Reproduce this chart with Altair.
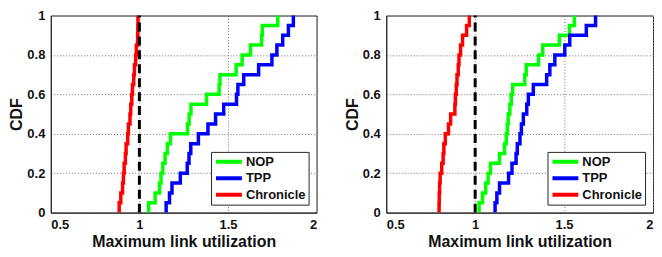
import altair as alt
import pandas as pd

# ---------------- data ----------------
series = ["NOP", "TPP", "Chronicle"]
colors = ["#00ff00", "#0000ff", "#ff0000"]

# left panel: sorted samples of maximum link utilization (20 each)
left_nop = [1.052, 1.089, 1.114, 1.122, 1.132, 1.145, 1.158, 1.175, 1.272, 1.281,
            1.291, 1.379, 1.450, 1.455, 1.546, 1.580, 1.627, 1.690, 1.694, 1.781]
left_tpp = [1.151, 1.170, 1.184, 1.231, 1.270, 1.280, 1.290, 1.333, 1.387, 1.430,
            1.476, 1.548, 1.556, 1.589, 1.673, 1.748, 1.776, 1.809, 1.841, 1.869]
left_chr = [0.886, 0.895, 0.905, 0.910, 0.914, 0.921, 0.925, 0.934, 0.938, 0.947,
            0.951, 0.957, 0.961, 0.968, 0.972, 0.979, 0.983, 0.990, 0.991, 0.992]

# right panel
right_nop = [1.022, 1.041, 1.059, 1.073, 1.086, 1.137, 1.165, 1.175, 1.181, 1.186,
             1.195, 1.203, 1.211, 1.279, 1.287, 1.356, 1.380, 1.474, 1.530, 1.558]
right_tpp = [1.112, 1.122, 1.137, 1.188, 1.207, 1.230, 1.237, 1.252, 1.260, 1.271,
             1.290, 1.299, 1.327, 1.402, 1.420, 1.448, 1.504, 1.532, 1.625, 1.677]
right_chr = [0.797, 0.798, 0.800, 0.803, 0.812, 0.820, 0.824, 0.832, 0.850, 0.862,
             0.886, 0.889, 0.894, 0.898, 0.905, 0.909, 0.918, 0.929, 0.952, 0.967]

x_ticks = [0.5, 1, 1.5, 2]
y_ticks = [0, 0.2, 0.4, 0.6, 0.8, 1]
threshold = [1.0]

FONT = "Liberation Sans"
TEXT = "#111111"


def cdf_frame(values_by_series):
    rows = []
    for name, vals in values_by_series.items():
        vals = sorted(vals)
        n = len(vals)
        rows.append(dict(series=name, x=vals[0], y=0.0, k=0))
        for i, v in enumerate(vals, start=1):
            rows.append(dict(series=name, x=v, y=i / n, k=i))
    return pd.DataFrame(rows)


def panel(df, w, h, legend_offset):
    lines = alt.Chart(df).mark_line(
        interpolate="step-after", strokeWidth=3.5
    ).encode(
        x=alt.X("x:Q",
                scale=alt.Scale(domain=[0.5, 2], nice=False, zero=False),
                axis=alt.Axis(values=x_ticks, tickCount=len(x_ticks), format="~g",
                              labelOverlap=False,
                              title="Maximum link utilization")),
        y=alt.Y("y:Q",
                scale=alt.Scale(domain=[0, 1], nice=False),
                axis=alt.Axis(values=y_ticks, tickCount=len(y_ticks), format="~g",
                              labelOverlap=False, title="CDF")),
        color=alt.Color(
            "series:N",
            scale=alt.Scale(domain=series, range=colors),
            sort=series,
            legend=alt.Legend(
                title=None, orient="bottom-right", offset=legend_offset,
                symbolType="stroke", symbolStrokeWidth=4, symbolSize=676,
                clipHeight=14, rowPadding=2.5, labelOffset=2,
                labelFont=FONT, labelFontSize=13, labelFontWeight="bold",
                labelColor=TEXT, strokeColor="#262626", fillColor="white",
                padding=3, cornerRadius=0,
            ),
        ),
        order="k:Q",
    )
    rule = alt.Chart(pd.DataFrame({"x": threshold})).mark_rule(
        color="black", strokeWidth=3, strokeDash=[9, 5]
    ).encode(
        x="x:Q",
        y=alt.datum(0),
        y2=alt.datum(1),
    )
    return alt.layer(lines, rule).properties(width=w, height=h)


left = panel(cdf_frame({"NOP": left_nop, "TPP": left_tpp, "Chronicle": left_chr}),
             267, 198, 8)
right = panel(cdf_frame({"NOP": right_nop, "TPP": right_tpp, "Chronicle": right_chr}),
              268, 198, 8)

chart = alt.hconcat(left, right, spacing=26).resolve_scale(
    color="independent"
).properties(
    padding={"top": -1, "left": 0, "right": 0, "bottom": 0}
).configure_view(
    stroke="#262626", strokeWidth=1
).configure_axis(
    labelFont=FONT, labelFontSize=13, labelFontWeight="bold", labelColor=TEXT,
    titleFont=FONT, titleFontSize=16, titleFontWeight="bold", titleColor=TEXT,
    grid=True, gridDash=[1, 2], gridColor="#707070", gridWidth=1,
    ticks=False, domainColor="#262626", domainWidth=1,
    labelPadding=6, titlePadding=2,
)

chart.save("out.html", embed_options={"renderer": "svg", "actions": False})
